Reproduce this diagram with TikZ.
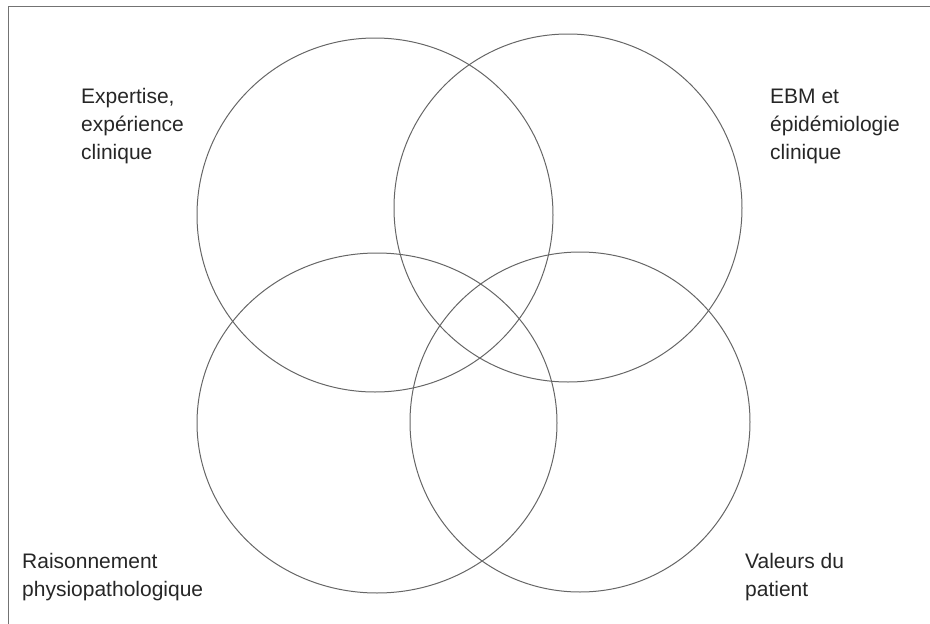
\documentclass[tikz,border=0pt]{standalone}
\usepackage{fontspec}
\setmainfont{Liberation Sans}
\begin{document}
\begin{tikzpicture}[x=1pt,y=-1pt,
  ring/.style={draw=black!60,line width=1pt},
  frame/.style={draw=black!55,line width=0.9pt},
  lbl/.style={inner sep=0pt,align=left,text=black!85,font=\fontsize{21}{28}\selectfont}]
\useasboundingbox (0,0) rectangle (930,624);
\coordinate (f1) at (930,6);
\coordinate (f2) at (8,6);
\coordinate (f3) at (8,624);
\draw[frame] (f1) -- (f2) -- (f3);
\node (tl) at (375,215) {};
\node (tr) at (568,208) {};
\node (bl) at (377,423) {};
\node (br) at (580,422) {};
\draw[ring] (tl.center) ellipse [x radius=178,y radius=177];
\draw[ring] (tr.center) ellipse [x radius=174,y radius=174];
\draw[ring] (bl.center) ellipse [x radius=180,y radius=170];
\draw[ring] (br.center) ellipse [x radius=170,y radius=170];
\node[lbl,anchor=base west] (t1) at (81,159) {Expertise,\\expérience\\clinique};
\node[lbl,anchor=base west] (t2) at (770,159) {EBM et\\épidémiologie\\clinique};
\node[lbl,anchor=base west] (t3) at (22,596) {Raisonnement\\physiopathologique};
\node[lbl,anchor=base west] (t4) at (745,596) {Valeurs du\\patient};
\end{tikzpicture}
\end{document}
